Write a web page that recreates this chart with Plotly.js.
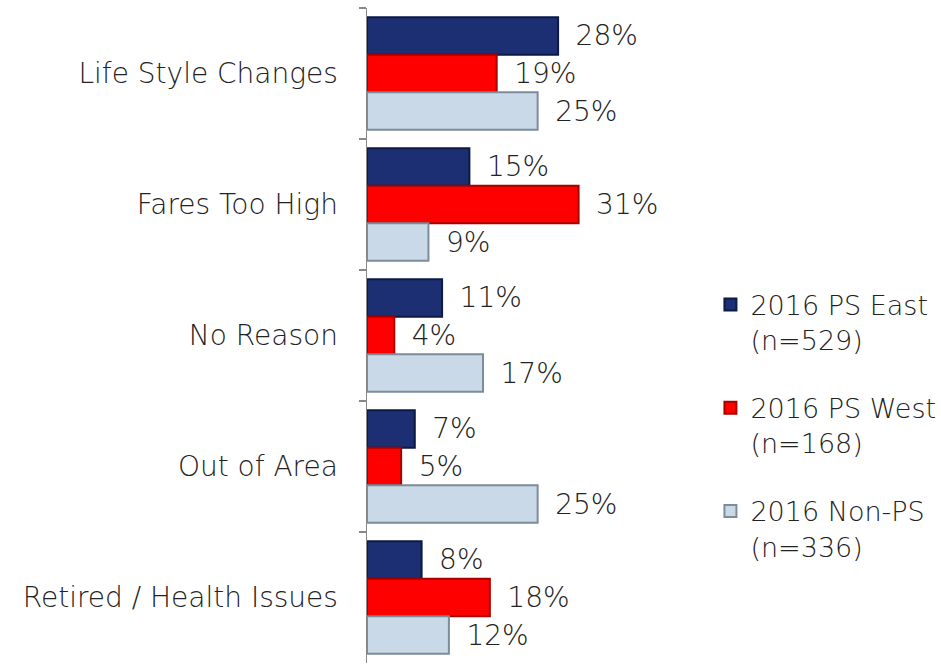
<!DOCTYPE html>
<html><head><meta charset="utf-8">
<script src="https://cdn.plot.ly/plotly-3.0.1.min.js"></script>
<style>html,body{margin:0;padding:0;background:#fff}#c{width:941px;height:665px}</style>
</head><body><div id="c"></div>
<script>
const categories = ["Life Style Changes","Fares Too High","No Reason","Out of Area","Retired / Health Issues"];
const seriesNames = ["2016 PS East<br>(n=529)","2016 PS West<br>(n=168)","2016 Non-PS<br>(n=336)"];
const psEast = [28,15,11,7,8];
const psWest = [19,31,4,5,18];
const nonPS = [25,9,17,25,12];
const colors = ["#1b2f72","#ff0000","#c9d9e7"];
const lineColors = ["#0c1a45","#a80000","#7d8c99"];
const FONT = "DejaVu Sans, sans-serif";
const FS = 28;
const LFS = 27;

const vals = [psEast, psWest, nonPS];
const traces = vals.map((v,i)=>({
  type:"bar", orientation:"h",
  y: categories, x: v,
  name: seriesNames[i], legendgroup:"g"+i,
  marker:{color:colors[i], line:{color:lineColors[i], width:2}},
  text: v.map(d=>"\u00a0\u2009"+d+"%"), textposition:"outside", cliponaxis:false,
  textfont:{size:FS, color:"#222", family:FONT, weight:300}
}));

const layout = {
  width:941, height:665,
  margin:{l:367, r:301, t:8, b:2, autoexpand:false},
  paper_bgcolor:"#fff", plot_bgcolor:"#fff",
  barmode:"group", bargap:0.14, bargroupgap:0,
  font:{family:FONT, color:"#222", size:FS, weight:300},
  showlegend:true,
  legend:{x:1.258, y:0.584, xanchor:"left", yanchor:"top", valign:"top",
    font:{size:LFS, color:"#222", family:FONT, weight:300},
    itemwidth:30, tracegroupgap:30, traceorder:"grouped", bgcolor:"rgba(0,0,0,0)"},
  xaxis:{range:[0,40], visible:false, fixedrange:true},
  yaxis:{autorange:"reversed", showline:true, linecolor:"#888", linewidth:1.5,
    ticks:"outside", tickson:"boundaries", ticklen:7, tickcolor:"#888", tickwidth:1.5,
    ticklabelstandoff:22, tickfont:{size:FS, color:"#222", family:FONT, weight:300}, showgrid:false, zeroline:false}
};
Plotly.newPlot("c", traces, layout, {displayModeBar:false, staticPlot:true});
</script></body></html>
